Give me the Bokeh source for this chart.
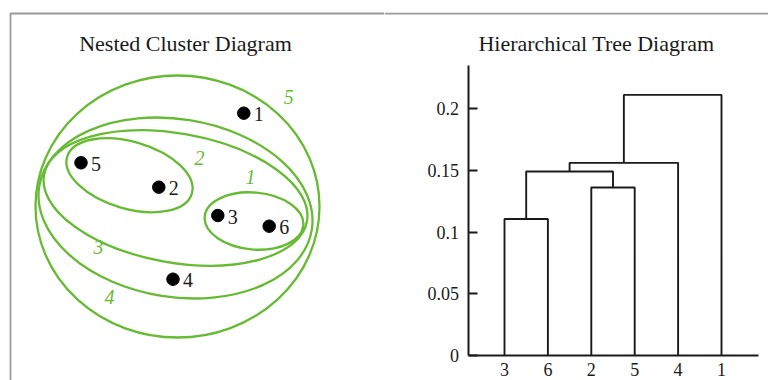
from bokeh.plotting import figure
from bokeh.layouts import row
from bokeh.models import Range1d, FixedTicker, Span
from bokeh.core.properties import value
from bokeh.embed import file_html
from bokeh.resources import INLINE

FONT = "Liberation Serif"
GREEN = "#66bb33"
INK = "#1a1a1a"

# ---------------- Nested cluster diagram data ----------------
point_labels = ["1", "2", "3", "4", "5", "6"]
point_x = [243.3, 158.3, 217.3, 172.5, 80.5, 268.7]
point_y = [112.7, 186.7, 215.0, 278.7, 162.3, 225.7]

cluster_ids = ["1", "2", "3", "4", "5"]
cluster_cx = [253.5, 129.0, 175.0, 175.0, 177.0]
cluster_cy = [220.5, 174.7, 197.5, 207.5, 206.0]
cluster_w = [99, 130, 267, 276, 284]
cluster_h = [57, 67, 129, 178, 262]
cluster_tilt = [-5, -16.4, -10, -9, 0]
cluster_label_x = [250.0, 199.0, 98.0, 109.0, 288.3]
cluster_label_y = [176.0, 157.5, 246.7, 296.7, 96.5]

# ---------------- Hierarchical tree (dendrogram) data ----------------
leaf_order = ["3", "6", "2", "5", "4", "1"]
merge_a = ["3", "2", "C1", "C3", "C4"]
merge_b = ["6", "5", "C2", "4", "1"]
merge_h = [0.1105, 0.136, 0.149, 0.156, 0.211]
y_ticks = [0, 0.05, 0.1, 0.15, 0.2]
y_tick_labels = ["0", "0.05", "0.1", "0.15", "0.2"]

W, H = 384, 380

# ---------------- Left panel ----------------
p1 = figure(width=W, height=H, x_range=Range1d(0, 384), y_range=Range1d(380, 0),
            x_axis_location=None, y_axis_location=None,
            output_backend="svg", toolbar_location=None, min_border=0)
p1.grid.visible = False
p1.outline_line_color = None

p1.line(x=[10, 10, 386], y=[380, 13, 13], line_color="#9a9a9a", line_width=1.8)

p1.ellipse(x=cluster_cx, y=cluster_cy, width=cluster_w, height=cluster_h,
           angle=cluster_tilt, angle_units="deg",
           fill_color=None, line_color=GREEN, line_width=2.3)

p1.scatter(x=point_x, y=point_y, size=12.5, color="black")
p1.text(x=point_x, y=point_y, text=point_labels, x_offset=10, y_offset=1,
        text_align="left", text_baseline="middle",
        text_font=value(FONT), text_font_size="20px", text_color=INK)
p1.text(x=cluster_label_x, y=cluster_label_y, text=cluster_ids,
        text_align="center", text_baseline="middle", text_font_style="italic",
        text_font=value(FONT), text_font_size="20px", text_color=GREEN)
p1.text(x=[185], y=[43], text=["Nested Cluster Diagram"],
        text_align="center", text_baseline="middle",
        text_font=value(FONT), text_font_size="22px", text_color=INK)

# ---------------- Right panel ----------------
X_AXIS_AT = 0.16
p2 = figure(width=W, height=H, x_range=Range1d(-1.765, 7.083), y_range=Range1d(-0.02024, 0.28745),
            output_backend="svg", toolbar_location=None, min_border=0)
p2.grid.visible = False
p2.outline_line_color = None

p2.add_layout(Span(location=0.2769, dimension="width", line_color="#9a9a9a", line_width=1.8))

pos = {leaf: i + 1 for i, leaf in enumerate(leaf_order)}
hgt = {leaf: 0.0 for leaf in leaf_order}
xs, ys = [], []
for k, (a, b, h) in enumerate(zip(merge_a, merge_b, merge_h)):
    xs.append([pos[a], pos[a], pos[b], pos[b]])
    ys.append([hgt[a], h, h, hgt[b]])
    name = f"C{k + 1}"
    pos[name] = (pos[a] + pos[b]) / 2
    hgt[name] = h
p2.multi_line(xs=xs, ys=ys, line_color=INK, line_width=1.9)

ya = p2.yaxis[0]
ya.fixed_location = X_AXIS_AT
ya.bounds = (0, 0.235)
ya.ticker = FixedTicker(ticks=y_ticks)
ya.major_label_overrides = {t: l for t, l in zip(y_ticks, y_tick_labels)}
ya.major_tick_in = 9
ya.major_tick_out = 0
ya.minor_tick_in = 0
ya.minor_tick_out = 0
ya.major_label_standoff = 9

xa = p2.xaxis[0]
xa.fixed_location = 0
xa.bounds = (X_AXIS_AT, 6.85)
xa.ticker = FixedTicker(ticks=list(range(1, len(leaf_order) + 1)))
xa.major_label_overrides = {i + 1: l for i, l in enumerate(leaf_order)}
xa.major_tick_in = 0
xa.major_tick_out = 0
xa.minor_tick_in = 0
xa.minor_tick_out = 0
xa.major_label_standoff = 7

for ax in (xa, ya):
    ax.axis_line_color = INK
    ax.axis_line_width = 2
    ax.major_tick_line_color = INK
    ax.major_tick_line_width = 2
    ax.major_label_text_font = FONT
    ax.major_label_text_font_size = "18px"
    ax.major_label_text_color = INK

p2.text(x=[3.12], y=[0.2526], text=["Hierarchical Tree Diagram"],
        text_align="center", text_baseline="middle",
        text_font=value(FONT), text_font_size="22px", text_color=INK)

layout = row(p1, p2)
open("out.html", "w").write(file_html(layout, INLINE))
